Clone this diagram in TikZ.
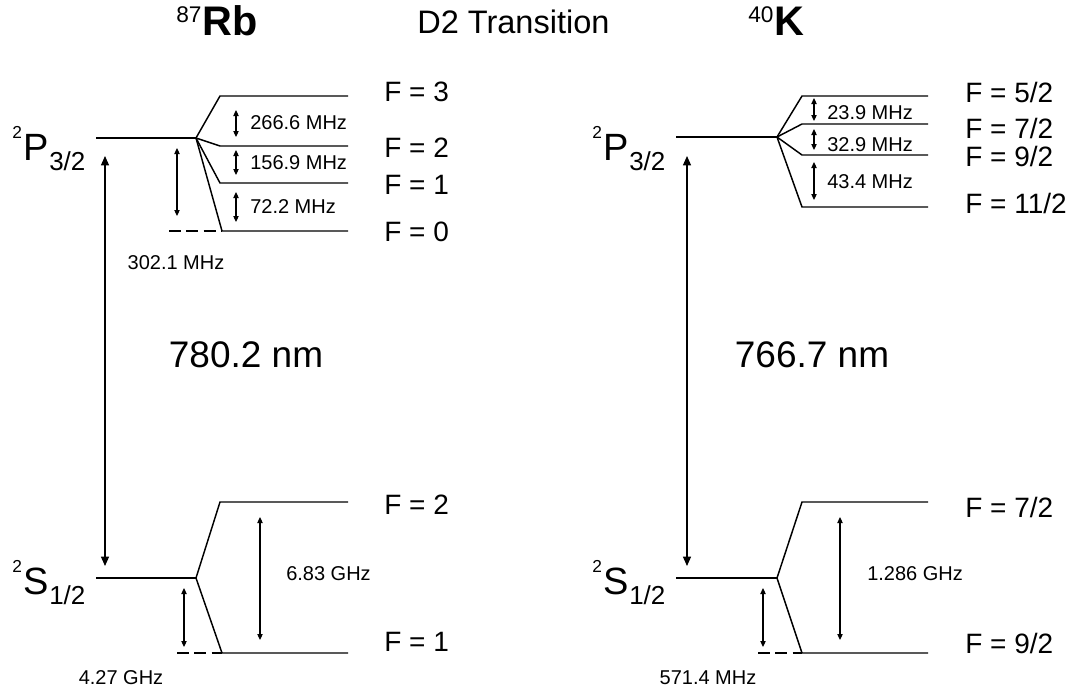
\documentclass[tikz,border=0pt]{standalone}
\usepackage{fontspec}
\setmainfont{Liberation Sans}
\usepackage{tikz}
\usetikzlibrary{arrows.meta,positioning,calc}
\newcommand{\termsym}[3]{{\fontsize{13}{14}\selectfont\raisebox{16pt}{#1}}\kern1.5pt%
  {\fontsize{28.5}{30}\selectfont #2}%
  {\fontsize{19.5}{20}\selectfont\raisebox{-7.5pt}{#3}}}
\newcommand{\isotope}[2]{{\fontsize{17}{18}\selectfont\raisebox{9.5pt}{#1}}\kern1pt%
  {\bfseries\fontsize{31}{32}\selectfont #2}}
\tikzset{
  lvl/.style={line width=1.1pt,black},
  reflvl/.style={lvl,dash pattern=on 9pt off 4pt},
  optic/.style={{Triangle[length=7pt,width=6pt]}-{Triangle[length=7pt,width=6pt]},line width=0.9pt},
  hfs/.style={{Triangle[length=4.5pt,width=4pt]}-{Triangle[length=4.5pt,width=4pt]},line width=0.8pt},
  flab/.style={anchor=west,inner sep=0pt,font=\fontsize{21}{24}\selectfont},
  freq/.style={inner sep=0pt,font=\fontsize{15}{17}\selectfont},
  wave/.style={inner sep=0pt,font=\fontsize{27.75}{30}\selectfont},
  term/.style={anchor=base west,inner sep=0pt},
}

\begin{document}
\begin{tikzpicture}[x=0.75pt,y=-0.75pt]
  \useasboundingbox (0,0) rectangle (1081,693);

  \node[term] (rbname) at (176,35) {\isotope{87}{Rb}};
  \node[term,font=\fontsize{24.4}{26}\selectfont] (dtwo) at (417,33) {D2 Transition};
  \node[term] (kname) at (748,35) {\isotope{40}{K}};

  % 87Rb, 2P3/2
  \node[term] (rbPlab) at (12,160) {\termsym{2}{P}{3/2}};
  \coordinate (rbP0) at (96,138);
  \coordinate (rbP1) at (196,138);
  \draw[lvl] (rbP0) -- (rbP1);
  \foreach \f/\y/\xa/\ly in {3/96/220/92,2/146/220/148,1/183/220/185,0/231/222/232}{
    \coordinate (rbF\f a) at (\xa,\y);
    \coordinate (rbF\f b) at (348,\y);
    \draw[lvl] (rbP1) -- (rbF\f a) -- (rbF\f b);
    \node[flab] (rbFlab\f) at (384,\ly) {F = \f};
  }
  \coordinate (rbPd) at (169,231);
  \draw[reflvl] (rbPd) -- (rbF0a);
  \foreach \n/\ya/\yb/\ly/\txt in {a/110/137/123/266.6,b/150/175/163/156.9,c/192/222/207/72.2}{
    \coordinate (rbH\n1) at (236,\ya);
    \coordinate (rbH\n2) at (236,\yb);
    \draw[hfs] (rbH\n1) -- (rbH\n2);
    \node[freq,anchor=west] (rbHlab\n) at (250,\ly) {\txt{} MHz};
  }
  \coordinate (rbPs1) at (177,148);
  \coordinate (rbPs2) at (177,216);
  \draw[hfs] (rbPs1) -- (rbPs2);
  \node[freq] (rbPslab) at (176,263) {302.1 MHz};

  % 87Rb, optical line
  \coordinate (rbUp) at (105,156);
  \coordinate (rbDn) at (105,566);
  \draw[optic] (rbUp) -- (rbDn);
  \node[wave] (rbnm) at (246,355) {780.2 nm};

  % 87Rb, 2S1/2
  \node[term] (rbSlab) at (12,594) {\termsym{2}{S}{1/2}};
  \coordinate (rbS0) at (96,578);
  \coordinate (rbS1) at (196,578);
  \draw[lvl] (rbS0) -- (rbS1);
  \foreach \f/\y/\xa/\ly in {2/502/220/505,1/653/222/642}{
    \coordinate (rbG\f a) at (\xa,\y);
    \coordinate (rbG\f b) at (348,\y);
    \draw[lvl] (rbS1) -- (rbG\f a) -- (rbG\f b);
    \node[flab] (rbGlab\f) at (384,\ly) {F = \f};
  }
  \coordinate (rbSd) at (177,653);
  \draw[reflvl] (rbSd) -- (rbG1a);
  \coordinate (rbG1) at (260,517);
  \coordinate (rbG2) at (260,640);
  \draw[hfs] (rbG1) -- (rbG2);
  \node[freq,anchor=west] (rbGhf) at (286,574) {6.83 GHz};
  \coordinate (rbSs1) at (184,588);
  \coordinate (rbSs2) at (184,647);
  \draw[hfs] (rbSs1) -- (rbSs2);
  \node[freq] (rbSslab) at (121,678) {4.27 GHz};

  % 40K, 2P3/2
  \node[term] (kPlab) at (592,160) {\termsym{2}{P}{3/2}};
  \coordinate (kP0) at (676,137);
  \coordinate (kP1) at (777,137);
  \draw[lvl] (kP0) -- (kP1);
  \foreach \f/\y/\ly in {5/96/92,7/124/128,9/155/156,11/207/203}{
    \coordinate (kF\f a) at (802,\y);
    \coordinate (kF\f b) at (928,\y);
    \draw[lvl] (kP1) -- (kF\f a) -- (kF\f b);
    \node[flab] (kFlab\f) at (965,\ly) {F = \f/2};
  }
  \foreach \n/\ya/\yb/\ly/\txt in {a/98/121/113/23.9,b/129/150/145/32.9,c/162/200/182/43.4}{
    \coordinate (kH\n1) at (814,\ya);
    \coordinate (kH\n2) at (814,\yb);
    \draw[hfs] (kH\n1) -- (kH\n2);
    \node[freq,anchor=west] (kHlab\n) at (827,\ly) {\txt{} MHz};
  }

  % 40K, optical line
  \coordinate (kUp) at (687,156);
  \coordinate (kDn) at (687,566);
  \draw[optic] (kUp) -- (kDn);
  \node[wave] (knm) at (812,355) {766.7 nm};

  % 40K, 2S1/2
  \node[term] (kSlab) at (592,594) {\termsym{2}{S}{1/2}};
  \coordinate (kS0) at (676,578);
  \coordinate (kS1) at (777,578);
  \draw[lvl] (kS0) -- (kS1);
  \foreach \f/\y/\ly in {7/502/507,9/653/643}{
    \coordinate (kG\f a) at (802,\y);
    \coordinate (kG\f b) at (928,\y);
    \draw[lvl] (kS1) -- (kG\f a) -- (kG\f b);
    \node[flab] (kGlab\f) at (965,\ly) {F = \f/2};
  }
  \coordinate (kSd) at (758,653);
  \draw[reflvl] (kSd) -- (kG9a);
  \coordinate (kG1) at (840,517);
  \coordinate (kG2) at (840,640);
  \draw[hfs] (kG1) -- (kG2);
  \node[freq,anchor=west] (kGhf) at (867,574) {1.286 GHz};
  \coordinate (kSs1) at (763,588);
  \coordinate (kSs2) at (763,647);
  \draw[hfs] (kSs1) -- (kSs2);
  \node[freq] (kSslab) at (708,678) {571.4 MHz};
\end{tikzpicture}
\end{document}
